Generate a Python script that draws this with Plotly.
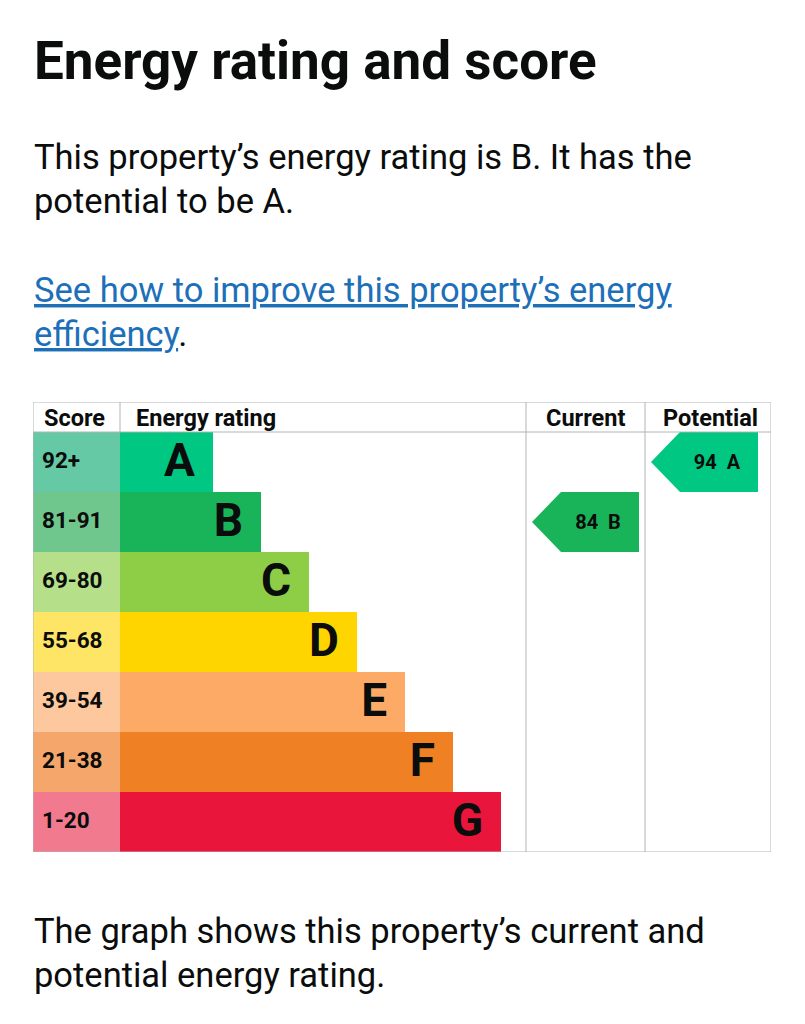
import plotly.graph_objects as go

W, H = 805, 1024

# chart data
bands = ["A", "B", "C", "D", "E", "F", "G"]
score_ranges = ["92+", "81-91", "69-80", "55-68", "39-54", "21-38", "1-20"]
band_mins = [92, 81, 69, 55, 39, 21, 1]
bar_lengths = [93, 141, 189, 237, 285, 333, 381]
band_colours = ["#00c781", "#19b459", "#8dce46", "#ffd500", "#fcaa65", "#ef8023", "#e9153b"]
score_colours = ["#66c9a5", "#6fc78d", "#b5df88", "#ffe566", "#fdc89d", "#f4a66b", "#f27a8f"]
current_score = 84
potential_score = 94

# table columns (in px-like axis units)
score_w = 87
cur_col = (493, 612)
pot_col = (612, 738)
arrow_w, arrow_tip = 107, 29

grid = "#b1b4b6"
FONT = "Roboto"


def band_of(score):
    for i, m in enumerate(band_mins):
        if score >= m:
            return i
    return len(bands) - 1


rows = list(range(len(bands)))
fig = go.Figure()

# score column background
fig.add_trace(go.Bar(y=rows, x=[score_w] * len(rows), base=0, orientation="h",
                     width=1, marker=dict(color=score_colours, line=dict(width=0)),
                     hoverinfo="skip"))
# rating bars
fig.add_trace(go.Bar(y=rows, x=bar_lengths, base=score_w, orientation="h",
                     width=1, marker=dict(color=band_colours, line=dict(width=0)),
                     hoverinfo="skip"))
# score labels
fig.add_trace(go.Scatter(x=[9] * len(rows), y=rows, mode="text", text=score_ranges,
                         textposition="middle right",
                         textfont=dict(family=FONT, size=22.5, color="#0b0c0c", weight="bold"),
                         hoverinfo="skip"))
# band letters
fig.add_trace(go.Scatter(x=[score_w + l - 18 for l in bar_lengths], y=[r + 0.04 for r in rows],
                         mode="text", text=bands, textposition="middle left",
                         textfont=dict(family=FONT, size=46, color="#0b0c0c", weight="bold"),
                         hoverinfo="skip"))


def arrow(col, score):
    i = band_of(score)
    tip = col[0] + 6
    right = tip + arrow_w
    xs = [tip, tip + arrow_tip, right, right, tip + arrow_tip, tip]
    ys = [i, i - 0.5, i - 0.5, i + 0.5, i + 0.5, i]
    fig.add_trace(go.Scatter(x=xs, y=ys, fill="toself", mode="lines",
                             fillcolor=band_colours[i], line=dict(width=0),
                             hoverinfo="skip"))
    fig.add_trace(go.Scatter(x=[(tip + arrow_tip + right) / 2 - 2], y=[i + 0.03], mode="text",
                             text=[f"{score}\u00a0\u00a0{bands[i]}"],
                             textposition="middle center",
                             textfont=dict(family=FONT, size=20, color="#0b0c0c", weight="bold"),
                             hoverinfo="skip"))


arrow(cur_col, current_score)
arrow(pot_col, potential_score)

# table header
headers = [("Score", 9, "left"), ("Energy rating", score_w + 14, "left"),
           ("Current", cur_col[1] - 18, "right"), ("Potential", pot_col[1] - 11, "right")]
for txt, x, anchor in headers:
    fig.add_annotation(x=x, y=-0.74, xref="x", yref="y", text=txt, showarrow=False,
                       xanchor=anchor, yanchor="middle",
                       font=dict(family=FONT, size=23.5, color="#0b0c0c", weight="bold"))

# table lines
line = dict(color=grid, width=1)
fig.add_shape(type="rect", x0=0, x1=pot_col[1], y0=-1, y1=6.5, xref="x", yref="y", line=line)
fig.add_shape(type="line", x0=0, x1=pot_col[1], y0=-0.5, y1=-0.5, xref="x", yref="y", line=line)
fig.add_shape(type="line", x0=score_w, x1=score_w, y0=-1, y1=-0.5, xref="x", yref="y", line=line)
for xv in (cur_col[0], pot_col[0]):
    fig.add_shape(type="line", x0=xv, x1=xv, y0=-1, y1=6.5, xref="x", yref="y", line=line)

# page text
def text_line(txt, yc, size, bold=False, color="#0b0c0c"):
    fig.add_annotation(x=32 / W, y=1 - yc / H, xref="paper", yref="paper", text=txt,
                       showarrow=False, xanchor="left", yanchor="middle",
                       font=dict(family=FONT, size=size, color=color,
                                 weight="bold" if bold else "normal"))


link = "#1d70b8"
text_line("Energy rating and score", 61, 53, bold=True)
text_line("This property’s energy rating is B. It has the", 157, 34.5)
text_line("potential to be A.", 201, 34.5)
text_line(f"<span style='color:{link}'><u>See how to improve this property’s energy</u></span>", 290, 34.5)
text_line(f"<span style='color:{link}'><u>efficiency</u></span>.", 334, 34.5)
text_line("The graph shows this property’s current and", 931, 34.5)
text_line("potential energy rating.", 975, 34.5)

fig.update_layout(
    width=W, height=H, margin=dict(l=0, r=0, t=0, b=0),
    paper_bgcolor="white", plot_bgcolor="white",
    showlegend=False, barmode="overlay",
    xaxis=dict(domain=[33 / W, 771 / W], range=[0, 738], visible=False, fixedrange=True),
    yaxis=dict(domain=[(H - 852) / H, (H - 402) / H], range=[6.5, -1.0], visible=False,
               fixedrange=True),
)

fig.write_html("out.html", config={"displayModeBar": False},
               post_script="document.body.style.margin='0';")
